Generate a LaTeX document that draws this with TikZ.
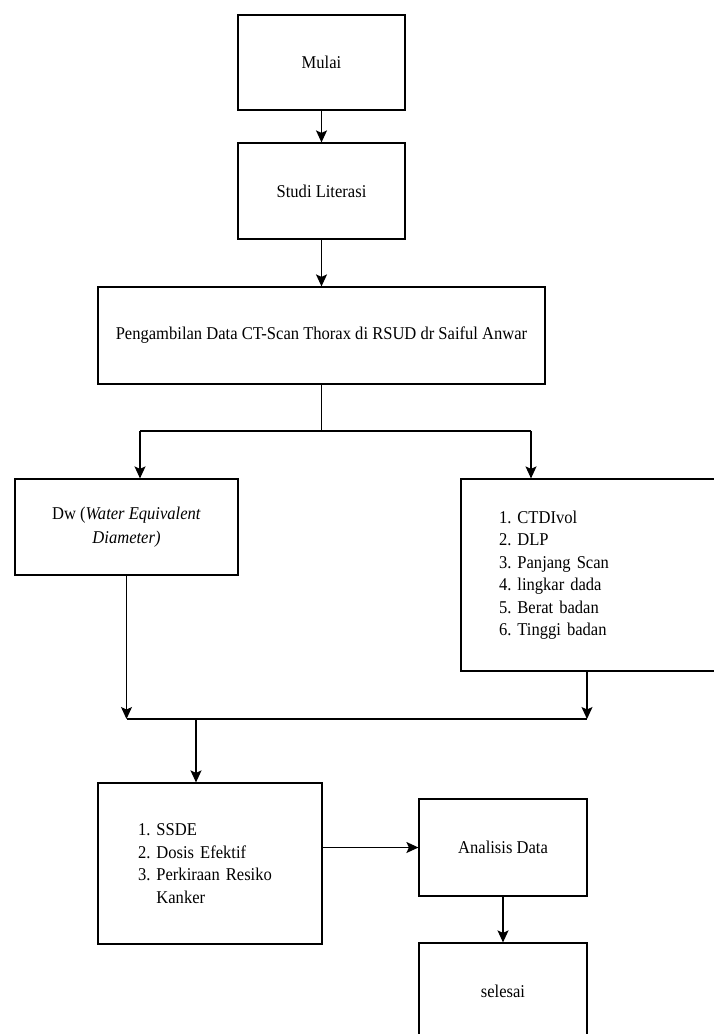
\documentclass[tikz,border=0pt]{standalone}
\usepackage{fontspec}
\setmainfont{Liberation Serif}[FakeStretch=0.92]
\frenchspacing
\usetikzlibrary{arrows.meta}

\begin{document}
\begin{tikzpicture}[x=1pt,y=-1pt,
        kotak/.style={draw,line width=1.2pt,inner sep=0pt,align=center,
            font=\fontsize{18}{22.5}\selectfont},
        panah/.style={-{Stealth[length=12pt,width=11pt,inset=2.5pt]},line width=1.2pt}]
        \useasboundingbox (0,0) rectangle (714,1034);
        \node[kotak,minimum width=167pt,minimum height=95pt] (mulai) at (321.5,62.5) {Mulai};
        \node[kotak,minimum width=167pt,minimum height=96pt] (studi) at (321.5,191) {Studi Literasi};
        \node[kotak,minimum width=447pt,minimum height=97pt] (ambil) at (321.5,335.5)
            {Pengambilan Data CT-Scan Thorax di RSUD dr Saiful Anwar};
        \node[kotak,minimum width=223pt,minimum height=96pt] (dw) at (126.5,527)
            {Dw (\textit{Water Equivalent}\\[1pt]\textit{Diameter)}};
        \node[kotak,align=left,text width=179pt,inner xsep=38pt,minimum height=192pt] (param) at (588.5,575)
            {1. CTDIvol\\2. DLP\\3. Panjang Scan\\4. lingkar dada\\5. Berat badan\\6. Tinggi badan};
        \node[kotak,align=left,text width=144pt,inner xsep=40pt,minimum height=161pt] (hasil) at (210,863.5)
            {1. SSDE\\2. Dosis Efektif\\3. Perkiraan Resiko\\\hphantom{3. }Kanker};
        \node[kotak,minimum width=168pt,minimum height=97pt] (analisis) at (503,847.5) {Analisis Data};
        \node[kotak,minimum width=168pt,minimum height=97pt] (selesai) at (503,991.5) {selesai};
        % cabang
        \coordinate (bagi) at (321.5,431);
        \coordinate (bagiKiri) at (140,431);
        \coordinate (bagiKanan) at (531,431);
        \coordinate (gabungKiri) at (126.5,719);
        \coordinate (gabungKanan) at (587,719);
        \coordinate (gabung) at (196,719);
        \draw[panah] (mulai.south) -- (studi.north);
        \draw[panah] (studi.south) -- (ambil.north);
        \draw[line width=1.2pt] (ambil.south) -- (bagi);
        \draw[line width=1.2pt] (bagiKiri) -- (bagiKanan);
        \foreach \t/\b in {bagiKiri/dw,bagiKanan/param}
            \draw[panah] (\t) -- (\t |- \b.north);
        \draw[panah] (dw.south -| gabungKiri) -- (gabungKiri);
        \draw[panah] (param.south -| gabungKanan) -- (gabungKanan);
        \draw[line width=1.2pt] (gabungKiri) -- (gabungKanan);
        \draw[panah] (gabung) -- (gabung |- hasil.north);
        \draw[panah] (analisis.west -| hasil.east) -- (analisis.west);
        \draw[panah] (analisis.south) -- (selesai.north);
    \end{tikzpicture}
\end{document}
